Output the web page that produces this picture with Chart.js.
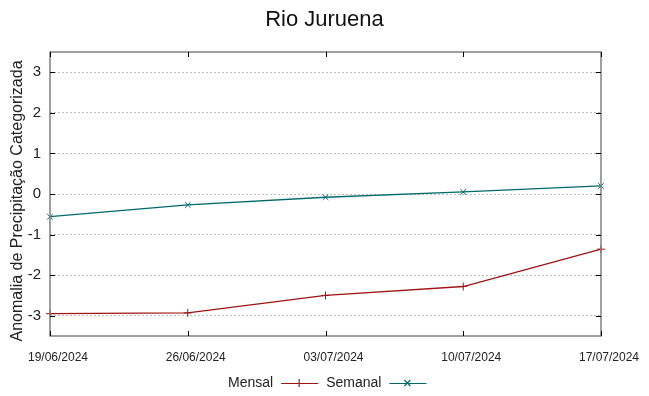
<!DOCTYPE html>
<html>
<head>
<meta charset="utf-8">
<script src="https://cdn.jsdelivr.net/npm/chart.js@4/dist/chart.umd.min.js"></script>
<style>
  html, body { margin: 0; padding: 0; background: #fff; }
  #wrap { width: 649px; height: 396px; }
</style>
</head>
<body>
<div id="wrap"><canvas id="chart" width="649" height="396"></canvas></div>
<script>
// data
var dates = ['19/06/2024', '26/06/2024', '03/07/2024', '10/07/2024', '17/07/2024'];
var mensal = [-2.95, -2.93, -2.50, -2.28, -1.36];
var semanal = [-0.56, -0.27, -0.08, 0.05, 0.20];
var yTicks = [-3, -2, -1, 0, 1, 2, 3];

var TITLE = 'Rio Juruena';
var YTITLE = 'Anomalia de Precipitação Categorizada';

var FONT = "'Liberation Sans', Arial, sans-serif";
var RED = '#a01414';
var TEAL = '#00696b';

// frame around the plot, inward ticks like gnuplot, titles and the legend (text before sample)
var framePlugin = {
    id: 'frame',
    afterDraw: function (chart) {
        var ctx = chart.ctx;
        var a = chart.chartArea;
        var xs = chart.scales.x, ys = chart.scales.y;
        ctx.save();
        ctx.strokeStyle = '#808080';
        ctx.lineWidth = 1.5;
        ctx.strokeRect(a.left, a.top, a.right - a.left, a.bottom - a.top);

        ctx.strokeStyle = '#000';
        ctx.lineWidth = 1;
        ctx.beginPath();
        ys.ticks.forEach(function (t) {
            var y = Math.round(ys.getPixelForValue(t.value)) + 0.5;
            ctx.moveTo(a.left, y); ctx.lineTo(a.left + 5, y);
            ctx.moveTo(a.right, y); ctx.lineTo(a.right - 5, y);
        });
        xs.ticks.forEach(function (t, i) {
            var x = Math.round(xs.getPixelForTick(i)) + 0.5;
            ctx.moveTo(x, a.bottom); ctx.lineTo(x, a.bottom - 5);
            ctx.moveTo(x, a.top); ctx.lineTo(x, a.top + 5);
        });
        ctx.stroke();

        // chart title
        ctx.fillStyle = '#111';
        ctx.textAlign = 'center';
        ctx.textBaseline = 'middle';
        ctx.font = '22px ' + FONT;
        ctx.fillText(TITLE, chart.width / 2, 20);

        // y axis title
        ctx.save();
        ctx.translate(18, 201);
        ctx.rotate(-Math.PI / 2);
        ctx.fillStyle = '#222';
        ctx.font = '16px ' + FONT;
        ctx.fillText(YTITLE, 0, 0);
        ctx.restore();

        // legend
        ctx.font = '14px ' + FONT;
        ctx.textBaseline = 'middle';
        var y = 383;
        var x = 228;
        chart.data.datasets.forEach(function (ds) {
            ctx.fillStyle = '#222';
            ctx.textAlign = 'left';
            ctx.fillText(ds.label, x, y);
            x += ctx.measureText(ds.label).width + 8;
            ctx.strokeStyle = ds.borderColor;
            ctx.lineWidth = 1.2;
            ctx.beginPath();
            ctx.moveTo(x, y + 0.5); ctx.lineTo(x + 37, y + 0.5);
            var cx = x + 18;
            if (ds.pointStyle === 'cross') {
                ctx.moveTo(cx - 4, y + 0.5); ctx.lineTo(cx + 4, y + 0.5);
                ctx.moveTo(cx, y - 4); ctx.lineTo(cx, y + 4);
            } else {
                ctx.moveTo(cx - 3, y - 3); ctx.lineTo(cx + 3, y + 3);
                ctx.moveTo(cx - 3, y + 3); ctx.lineTo(cx + 3, y - 3);
            }
            ctx.stroke();
            x += 37 + 8;
        });
        ctx.restore();
    }
};

new Chart(document.getElementById('chart'), {
    type: 'line',
    data: {
        labels: dates,
        datasets: [{
            label: 'Mensal',
            data: mensal,
            borderColor: RED,
            backgroundColor: RED,
            borderWidth: 1.3,
            pointStyle: 'cross',
            pointRadius: 4,
            pointBorderWidth: 1,
            tension: 0
        }, {
            label: 'Semanal',
            data: semanal,
            borderColor: TEAL,
            backgroundColor: TEAL,
            borderWidth: 1.3,
            pointStyle: 'crossRot',
            pointRadius: 4,
            pointBorderWidth: 1,
            tension: 0
        }]
    },
    options: {
        responsive: false,
        animation: false,
        clip: false,
        layout: { padding: { left: 0, right: 48, top: 52, bottom: 28 } },
        plugins: {
            legend: { display: false },
            tooltip: { enabled: false },
            title: { display: false }
        },
        scales: {
            x: {
                type: 'category',
                offset: false,
                grid: { display: false, drawTicks: false },
                border: { display: false },
                ticks: {
                    color: '#222',
                    font: { family: FONT, size: 12 },
                    padding: 14,
                    labelOffset: 8,
                    maxRotation: 0,
                    autoSkip: false
                },
                afterFit: function (s) { s.height = 32; }
            },
            y: {
                min: -3.5,
                max: 3.5,
                afterBuildTicks: function (s) {
                    s.ticks = yTicks.map(function (v) { return { value: v }; });
                },
                grid: {
                    color: '#bdbdbd',
                    lineWidth: 1,
                    drawTicks: false
                },
                border: { display: false, dash: [2, 2] },
                ticks: {
                    color: '#222',
                    font: { family: FONT, size: 15 },
                    padding: 9
                },
                afterFit: function (s) { s.width = 50; }
            }
        }
    },
    plugins: [framePlugin]
});
</script>
</body>
</html>
